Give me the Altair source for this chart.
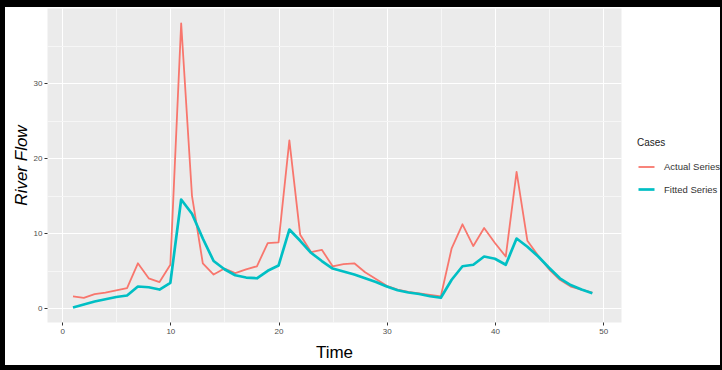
import altair as alt
import pandas as pd

time = list(range(1, 50))
actual = [1.6, 1.4, 1.9, 2.1, 2.4, 2.7, 6.0, 4.0, 3.5, 5.8,
          38.0, 15.0, 6.0, 4.5, 5.3, 4.7, 5.2, 5.6, 8.7, 8.8,
          22.4, 9.8, 7.5, 7.8, 5.6, 5.9, 6.0, 4.8, 3.9, 3.0,
          2.5, 2.2, 2.0, 1.8, 1.6, 8.0, 11.2, 8.3, 10.7, 8.7,
          6.9, 18.2, 9.0, 7.0, 5.2, 3.8, 2.9, 2.5, 2.1]
fitted = [0.1, 0.5, 0.9, 1.2, 1.5, 1.7, 2.9, 2.8, 2.5, 3.4,
          14.5, 12.6, 9.3, 6.3, 5.2, 4.4, 4.1, 4.0, 5.0, 5.7,
          10.5, 9.0, 7.4, 6.3, 5.3, 4.9, 4.5, 4.0, 3.5, 2.9,
          2.4, 2.1, 1.9, 1.6, 1.4, 3.8, 5.6, 5.8, 6.9, 6.6,
          5.8, 9.3, 8.2, 6.9, 5.4, 4.0, 3.1, 2.5, 2.0]
series_names = ["Actual Series", "Fitted Series"]
series_colors = ["#F8766D", "#00BFC4"]
x_ticks = [0, 5, 10, 15, 20, 25, 30, 35, 40, 45, 50]
y_ticks = [0, 5, 10, 15, 20, 25, 30, 35]

n = len(time)
df = pd.DataFrame({
    "Time": time + time,
    "Flow": actual + fitted,
    "Cases": [series_names[0]] * n + [series_names[1]] * n,
})

W, H = 574, 314
xs = alt.Scale(domain=[-1.4, 51.65], nice=False, zero=False)
ys = alt.Scale(domain=[-1.83, 40.04], nice=False, zero=False)

is_minor = "datum.value % 10 != 0"
grid_c = {"condition": {"test": is_minor, "value": "#F6F6F6"}, "value": "#FFFFFF"}
tick_op = {"condition": {"test": is_minor, "value": 0}, "value": 1}
major_label = "datum.value % 10 == 0 ? datum.label : ''"

x_axis = alt.Axis(values=x_ticks, title="Time", format="d",
                  labelExpr=major_label, gridColor=grid_c, tickOpacity=tick_op,
                  labelPadding=2, titlePadding=9)
y_axis = alt.Axis(values=y_ticks, title="River Flow", format="d",
                  labelExpr=major_label, gridColor=grid_c, tickOpacity=tick_op,
                  titleFontStyle="italic", labelPadding=2, titlePadding=3)

lines = alt.Chart(df).mark_line(strokeJoin="round").encode(
    x=alt.X("Time:Q", scale=xs, axis=x_axis),
    y=alt.Y("Flow:Q", scale=ys, axis=y_axis),
    color=alt.Color("Cases:N",
                    scale=alt.Scale(domain=series_names, range=series_colors),
                    legend=alt.Legend(title="Cases", orient="none",
                                      legendX=590, legendY=130,
                                      symbolType="stroke", symbolSize=256,
                                      symbolStrokeWidth=2,
                                      labelFontSize=9.5, titleFontSize=10,
                                      titleFontWeight="normal",
                                      titleColor="#222222",
                                      labelColor="#333333",
                                      labelFont="Liberation Sans",
                                      titleFont="Liberation Sans",
                                      rowPadding=8, titlePadding=10,
                                      labelOffset=8, padding=0)),
    strokeWidth=alt.StrokeWidth("Cases:N",
                                scale=alt.Scale(domain=series_names,
                                                range=[1.8, 2.7]),
                                legend=None),
)

frame_df = pd.DataFrame({"k": [0]})
top_bar = alt.Chart(frame_df).mark_rect(color="black", clip=False).encode(
    x=alt.value(-47), x2=alt.value(675), y=alt.value(-8), y2=alt.value(-1))
bottom_bar = alt.Chart(frame_df).mark_rect(color="black", clip=False).encode(
    x=alt.value(-47), x2=alt.value(675), y=alt.value(357), y2=alt.value(362))
left_bar = alt.Chart(frame_df).mark_rect(color="black", clip=False).encode(
    x=alt.value(-47), x2=alt.value(-42), y=alt.value(-8), y2=alt.value(362))
right_bar = alt.Chart(frame_df).mark_rect(color="black", clip=False).encode(
    x=alt.value(673), x2=alt.value(675), y=alt.value(-8), y2=alt.value(362))

chart = alt.layer(
    lines, top_bar, bottom_bar, left_bar, right_bar
).properties(
    width=W, height=H,
    autosize=alt.AutoSizeParams(type="none"),
    padding={"left": 47, "top": 8, "right": 101, "bottom": 48},
    background="white",
).configure_view(
    fill="#EBEBEB", stroke="transparent"
).configure_axis(
    domain=False, tickColor="#333333", tickSize=3, tickWidth=1,
    labelColor="#4D4D4D", labelFontSize=8, labelFont="Liberation Sans",
    gridWidth=1,
    titleFont="Liberation Sans", titleFontSize=17, titleColor="black",
    titleFontWeight="normal",
)

chart.save("out.html", embed_options={"renderer": "svg", "actions": False})
